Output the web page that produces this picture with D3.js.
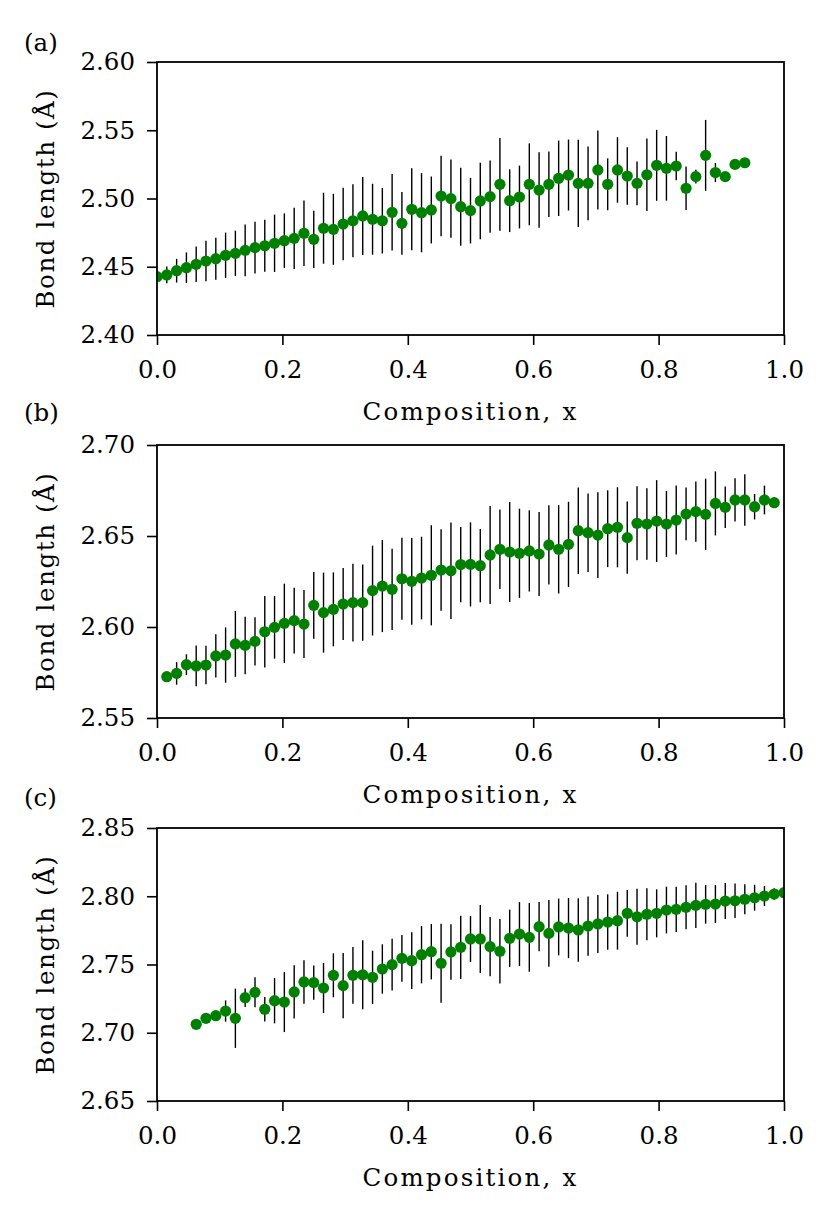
<!DOCTYPE html>
<html>
<head>
<meta charset="utf-8">
<script src="https://cdn.jsdelivr.net/npm/d3@7/dist/d3.min.js"></script>
<style>
  html, body { margin: 0; padding: 0; background: #fff; }
  text { font-family: "DejaVu Serif", "Liberation Serif", serif; fill: #000; }
</style>
</head>
<body>
<div id="chart"></div>
<script>
// Composition grid shared by all three panels (x = k/64)
const composition = [
  0.0000, 0.0156, 0.0313, 0.0469, 0.0625, 0.0781, 0.0938, 0.1094, 0.1250, 0.1406,
  0.1563, 0.1719, 0.1875, 0.2031, 0.2188, 0.2344, 0.2500, 0.2656, 0.2813, 0.2969,
  0.3125, 0.3281, 0.3438, 0.3594, 0.3750, 0.3906, 0.4063, 0.4219, 0.4375, 0.4531,
  0.4688, 0.4844, 0.5000, 0.5156, 0.5313, 0.5469, 0.5625, 0.5781, 0.5938, 0.6094,
  0.6250, 0.6406, 0.6563, 0.6719, 0.6875, 0.7031, 0.7188, 0.7344, 0.7500, 0.7656,
  0.7813, 0.7969, 0.8125, 0.8281, 0.8438, 0.8594, 0.8750, 0.8906, 0.9063, 0.9219,
  0.9375, 0.9531, 0.9688, 0.9844, 1.0000
];

// Panel (a): x = 0 .. 0.9375
const xA = composition.slice(0, 61);
const bondA = [
  2.4427, 2.4440, 2.4471, 2.4493, 2.4518, 2.4542, 2.4559, 2.4584, 2.4598, 2.4620,
  2.4640, 2.4654, 2.4672, 2.4691, 2.4708, 2.4745, 2.4701, 2.4782, 2.4774, 2.4813,
  2.4837, 2.4872, 2.4848, 2.4837, 2.4899, 2.4818, 2.4921, 2.4896, 2.4916, 2.5018,
  2.4999, 2.4940, 2.4911, 2.4982, 2.5014, 2.5104, 2.4984, 2.5011, 2.5104, 2.5062,
  2.5104, 2.5148, 2.5172, 2.5111, 2.5111, 2.5209, 2.5104, 2.5209, 2.5165, 2.5111,
  2.5174, 2.5243, 2.5221, 2.5238, 2.5075, 2.5160, 2.5316, 2.5190, 2.5160, 2.5250,
  2.5262
];
const errA = [
  0.0040, 0.0061, 0.0087, 0.0112, 0.0130, 0.0149, 0.0154, 0.0166, 0.0166, 0.0190,
  0.0190, 0.0190, 0.0210, 0.0200, 0.0225, 0.0240, 0.0210, 0.0260, 0.0260, 0.0265,
  0.0268, 0.0286, 0.0260, 0.0240, 0.0280, 0.0230, 0.0300, 0.0290, 0.0245, 0.0295,
  0.0286, 0.0286, 0.0240, 0.0280, 0.0264, 0.0340, 0.0230, 0.0230, 0.0300, 0.0276,
  0.0240, 0.0276, 0.0260, 0.0320, 0.0270, 0.0290, 0.0190, 0.0240, 0.0210, 0.0160,
  0.0266, 0.0260, 0.0237, 0.0105, 0.0160, 0.0050, 0.0260, 0.0070, 0.0000, 0.0000,
  0.0000
];

// Panel (b): x = 0.0156 .. 0.9844
const xB = composition.slice(1, 64);
const bondB = [
  2.5727, 2.5745, 2.5793, 2.5786, 2.5791, 2.5841, 2.5846, 2.5907, 2.5899, 2.5921,
  2.5974, 2.5998, 2.6020, 2.6035, 2.6016, 2.6119, 2.6079, 2.6097, 2.6126, 2.6134,
  2.6134, 2.6200, 2.6225, 2.6207, 2.6265, 2.6251, 2.6269, 2.6284, 2.6313, 2.6309,
  2.6343, 2.6344, 2.6337, 2.6396, 2.6427, 2.6412, 2.6405, 2.6418, 2.6401, 2.6451,
  2.6427, 2.6454, 2.6529, 2.6518, 2.6505, 2.6540, 2.6548, 2.6491, 2.6570, 2.6566,
  2.6582, 2.6566, 2.6588, 2.6621, 2.6634, 2.6619, 2.6679, 2.6658, 2.6698, 2.6698,
  2.6661, 2.6698, 2.6683
];
const errB = [
  0.0020, 0.0062, 0.0057, 0.0112, 0.0106, 0.0119, 0.0152, 0.0181, 0.0158, 0.0132,
  0.0196, 0.0172, 0.0218, 0.0180, 0.0187, 0.0183, 0.0220, 0.0203, 0.0198, 0.0214,
  0.0210, 0.0247, 0.0253, 0.0223, 0.0225, 0.0238, 0.0227, 0.0275, 0.0224, 0.0265,
  0.0207, 0.0231, 0.0201, 0.0269, 0.0218, 0.0275, 0.0245, 0.0223, 0.0231, 0.0218,
  0.0243, 0.0234, 0.0238, 0.0216, 0.0236, 0.0211, 0.0220, 0.0198, 0.0203, 0.0196,
  0.0225, 0.0181, 0.0190, 0.0145, 0.0165, 0.0196, 0.0176, 0.0114, 0.0119, 0.0141,
  0.0070, 0.0079, 0.0000
];

// Panel (c): x = 0.0625 .. 1.0
const xC = composition.slice(4, 65);
const bondC = [
  2.7062, 2.7106, 2.7125, 2.7159, 2.7106, 2.7257, 2.7296, 2.7172, 2.7235, 2.7225,
  2.7299, 2.7372, 2.7367, 2.7328, 2.7421, 2.7345, 2.7421, 2.7425, 2.7406, 2.7467,
  2.7499, 2.7545, 2.7528, 2.7572, 2.7594, 2.7509, 2.7592, 2.7626, 2.7687, 2.7687,
  2.7631, 2.7597, 2.7692, 2.7723, 2.7699, 2.7777, 2.7728, 2.7775, 2.7767, 2.7753,
  2.7782, 2.7797, 2.7811, 2.7821, 2.7875, 2.7850, 2.7868, 2.7875, 2.7899, 2.7904,
  2.7919, 2.7933, 2.7941, 2.7943, 2.7965, 2.7967, 2.7978, 2.7989, 2.8002, 2.8016,
  2.8026
];
const errC = [
  0.0000, 0.0000, 0.0020, 0.0078, 0.0217, 0.0068, 0.0110, 0.0090, 0.0166, 0.0220,
  0.0195, 0.0159, 0.0125, 0.0183, 0.0161, 0.0239, 0.0208, 0.0252, 0.0195, 0.0181,
  0.0190, 0.0171, 0.0208, 0.0210, 0.0203, 0.0290, 0.0203, 0.0232, 0.0168, 0.0249,
  0.0217, 0.0237, 0.0210, 0.0234, 0.0252, 0.0180, 0.0244, 0.0208, 0.0220, 0.0232,
  0.0217, 0.0212, 0.0203, 0.0212, 0.0171, 0.0205, 0.0190, 0.0176, 0.0171, 0.0166,
  0.0161, 0.0166, 0.0142, 0.0139, 0.0132, 0.0127, 0.0110, 0.0095, 0.0073, 0.0042,
  0.0000
];

// Axis ticks
const xTicks = [0.0, 0.2, 0.4, 0.6, 0.8, 1.0];
const yTicksA = [2.40, 2.45, 2.50, 2.55, 2.60];
const yTicksB = [2.55, 2.60, 2.65, 2.70];
const yTicksC = [2.65, 2.70, 2.75, 2.80, 2.85];
const panelLabels = ["(a)", "(b)", "(c)"];

const W = 830, H = 1220;
const plotLeft = 157, plotRight = 784, plotH = 273;
const panelTops = [62, 445, 828];
const labelY = [51, 421, 806];
const FS = 24.5;

const svg = d3.select("#chart").append("svg")
  .attr("width", W)
  .attr("height", H)
  .attr("viewBox", `0 0 ${W} ${H}`);

svg.append("rect").attr("width", W).attr("height", H).attr("fill", "#fff");

const panels = [
  { x: xA, y: bondA, err: errA, ticks: yTicksA },
  { x: xB, y: bondB, err: errB, ticks: yTicksB },
  { x: xC, y: bondC, err: errC, ticks: yTicksC },
];

panels.forEach((p, i) => drawPanel(p, i));

function drawPanel(p, i) {
  const top = panelTops[i];
  const bottom = top + plotH;
  const pts = p.x.map((x, j) => ({ x, y: p.y[j], e: p.err[j] }));

  const x = d3.scaleLinear().domain([0, 1]).range([plotLeft, plotRight]);
  const y = d3.scaleLinear()
    .domain([p.ticks[0], p.ticks[p.ticks.length - 1]])
    .range([bottom, top]);

  const g = svg.append("g");

  // clip marks to the axes box, like matplotlib does
  const clipId = "clip" + i;
  g.append("clipPath").attr("id", clipId)
    .append("rect")
    .attr("x", plotLeft).attr("y", top)
    .attr("width", plotRight - plotLeft).attr("height", plotH);

  const marks = g.append("g").attr("clip-path", `url(#${clipId})`);

  // error bars
  marks.selectAll("line.err")
    .data(pts.filter((d) => d.e > 0))
    .enter().append("line")
    .attr("class", "err")
    .attr("x1", (d) => x(d.x))
    .attr("x2", (d) => x(d.x))
    .attr("y1", (d) => y(d.y - d.e))
    .attr("y2", (d) => y(d.y + d.e))
    .attr("stroke", "#000")
    .attr("stroke-width", 1.4);

  // markers
  marks.selectAll("circle.pt")
    .data(pts)
    .enter().append("circle")
    .attr("class", "pt")
    .attr("cx", (d) => x(d.x))
    .attr("cy", (d) => y(d.y))
    .attr("r", 5.6)
    .attr("fill", "#008000");

  // axes
  const xAxis = d3.axisBottom(x)
    .tickValues(xTicks)
    .tickFormat(d3.format(".1f"))
    .tickSize(10)
    .tickPadding(10);
  const yAxis = d3.axisLeft(y)
    .tickValues(p.ticks)
    .tickFormat(d3.format(".2f"))
    .tickSize(10)
    .tickPadding(12);

  const gx = g.append("g").attr("transform", `translate(0,${bottom})`).call(xAxis);
  const gy = g.append("g").attr("transform", `translate(${plotLeft},0)`).call(yAxis);

  [gx, gy].forEach((a) => {
    a.select(".domain").remove();
    a.selectAll(".tick line").attr("stroke", "#000").attr("stroke-width", 1.6);
    a.selectAll(".tick text").attr("font-size", FS).attr("fill", "#000");
  });
  gx.selectAll(".tick text").attr("dy", "0.95em");

  // frame
  g.append("rect")
    .attr("x", plotLeft).attr("y", top)
    .attr("width", plotRight - plotLeft).attr("height", plotH)
    .attr("fill", "none")
    .attr("stroke", "#000")
    .attr("stroke-width", 1.8);

  // axis titles (a bit of tracking to get closer to the wide LaTeX face)
  g.append("text")
    .attr("x", (plotLeft + plotRight) / 2)
    .attr("y", bottom + 85)
    .attr("text-anchor", "middle")
    .attr("font-size", FS)
    .attr("letter-spacing", 2.2)
    .text("Composition, x");

  g.append("text")
    .attr("transform", `translate(54,${top + plotH / 2}) rotate(-90)`)
    .attr("text-anchor", "middle")
    .attr("font-size", FS)
    .attr("letter-spacing", 1.6)
    .text("Bond length (Å)");

  // panel letter
  g.append("text")
    .attr("x", 24)
    .attr("y", labelY[i])
    .attr("font-size", FS)
    .text(panelLabels[i]);
}
</script>
</body>
</html>
